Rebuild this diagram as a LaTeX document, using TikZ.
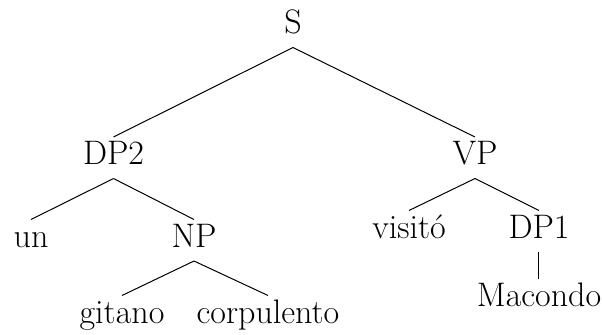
\documentclass[tikz,border=0pt]{standalone}
\usepackage{fontspec}
\setmainfont{Latin Modern Roman}
\begin{document}
\begin{tikzpicture}[x=0.5pt,y=-0.5pt,
  every node/.style={anchor=base,inner sep=0pt,outer sep=0pt,text height=13.75pt,text depth=7pt,font=\fontsize{17}{20}\selectfont},
  edge/.style={draw=black,line width=0.5pt}]
\useasboundingbox (0,0) rectangle (602,334);
\node (S) at (293,33.5) {S};
\node (DP2) at (113.5,164.5) {DP2};
\node (VP) at (475,164.5) {VP};
\node (un) at (31,247) {un};
\node (NP) at (194,247) {NP};
\node (gitano) at (122,323) {gitano};
\node (corpulento) at (268,323) {corpulento};
\node (visito) at (409,238) {visitó};
\node (DP1) at (539,238) {DP1};
\node (Macondo) at (539,306.5) {Macondo};
\draw[edge] (S.south) -- (DP2.north);
\draw[edge] (S.south) -- (VP.north);
\draw[edge] (DP2.south) -- (un.north);
\draw[edge] (DP2.south) -- (NP.north);
\draw[edge] (NP.south) -- (gitano.north);
\draw[edge] (NP.south) -- (corpulento.north);
\draw[edge] (VP.south) -- (visito.north);
\draw[edge] (VP.south) -- (DP1.north);
\draw[edge] (DP1.south) -- (Macondo.north);
\end{tikzpicture}
\end{document}
